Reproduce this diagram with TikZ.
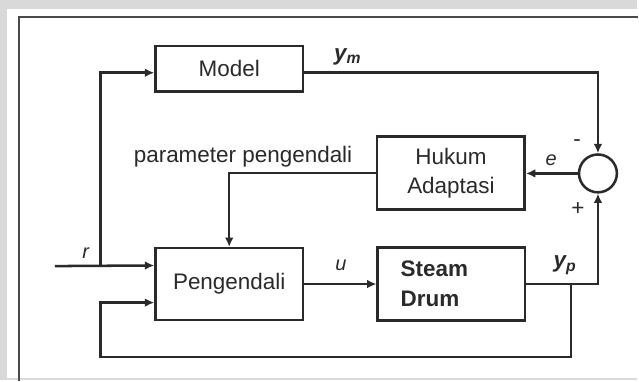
\documentclass[tikz,border=0pt]{standalone}
\usepackage{fontspec}
\setmainfont{Liberation Sans}
\usetikzlibrary{arrows.meta,calc}
\definecolor{pagegray}{HTML}{D9D9D9}
\definecolor{ink}{HTML}{2A2A2A}
\definecolor{framegray}{HTML}{4A4A4A}
\begin{document}
\begin{tikzpicture}[x=0.75pt,y=-0.75pt,
  wire/.style={line width=1.9pt, draw=ink},
  flow/.style={wire, -{Latex[length=7pt,width=6.5pt]}},
  txt/.style={text=ink, font=\fontsize{16.9}{22}\selectfont, inner sep=0pt},
  block/.style={txt, draw=ink, line width=1.9pt, fill=white,
    minimum width=111pt, align=center},
  sig/.style={txt, font=\fontsize{15}{20}\selectfont\itshape},
  outsig/.style={txt, font=\fontsize{16.9}{22}\selectfont\bfseries\itshape},
  sumpt/.style={draw=ink, line width=1.9pt, circle, minimum size=28.5pt, inner sep=0pt}
]
% page and frame
\fill[pagegray] (0,0) rectangle (639,381);
\fill[white] (7,9) rectangle (639,379);
\draw[framegray, line width=1.8pt] (640,17) -- (19,17) -- (19,382);
\useasboundingbox (0,0) rectangle (639,381);

% blocks
\node[block, minimum height=34.5pt] (model) at (230,69) {Model};
\node[block, minimum height=54.75pt] (hukum) at (452.5,173.5) {Hukum\\Adaptasi};
\node[block, minimum height=54pt] (peng) at (230,285) {Pengendali};
\node[block, minimum height=54.75pt, text width=76.5pt, align=left,
      font=\fontsize{16.9}{22.5}\selectfont\bfseries] (steam) at (453,285) {Steam\\Drum};
\node[sumpt] (sum) at (600,174) {};

% helper points
\coordinate (mrow) at (0,73);
\coordinate (rin) at (55,267);
\coordinate (rj) at (101,267);
\coordinate (tap) at (573,285);
\coordinate (fbr) at (573,358);
\coordinate (fbl) at (101,358);
\coordinate (pin1) at ($(peng.south west)!0.75!(peng.north west)$);
\coordinate (pin2) at ($(peng.south west)!0.25!(peng.north west)$);

% connectors
\draw[flow] (rin) -- (pin1);
\draw[flow] (rj) |- (model.west |- mrow);
\draw[flow] (model.east |- mrow) -| (sum.north);
\draw[flow] (sum.west) -- (sum.west -| hukum.east);
\draw[flow] (hukum.west) -| (peng.north);
\draw[flow] (peng.east) -- (peng.east -| steam.west);
\draw[flow] (steam.east) -| (sum.south);
\draw[flow] (tap) -- (fbr) -- (fbl) |- (pin2);

% labels
\node[outsig] (lym) at (349,57) {y\textsubscript{m}};
\node[sig] (lr) at (86,254) {r};
\node[sig] (lu) at (342,266) {u};
\node[outsig] (lyp) at (567,266) {y\textsubscript{p}};
\node[sig] (le) at (553,161) {e};
\node[txt] (lminus) at (579,144) {-};
\node[txt] (lplus) at (580,210) {+};
\node[txt, anchor=west] (lpar) at (134,157) {parameter pengendali};
\end{tikzpicture}
\end{document}
